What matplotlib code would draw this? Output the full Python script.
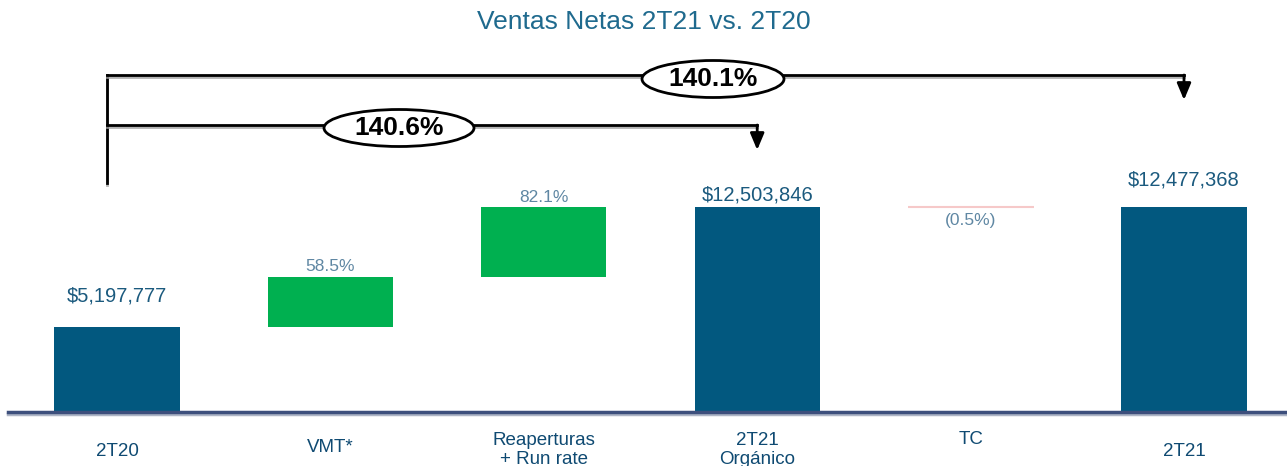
"""Waterfall de ventas netas 2T21 vs. 2T20
"""

#%% Imports
import matplotlib
matplotlib.use('Agg')
import matplotlib.pyplot as plt
import matplotlib.patheffects as pe
from matplotlib.patches import Ellipse

#%% Data
categories = ['2T20', 'VMT*', 'Reaperturas\n+ Run rate', '2T21\nOrgánico', 'TC', '2T21']
# value of each step (totals for 2T20 / 2T21, deltas for the others)
values = [5197777, 3040700, 4265369, 12503846, -26478, 12477368]
is_total = [True, False, False, True, False, True]
value_labels = ['$5,197,777', '58.5%', '82.1%', '$12,503,846', '(0.5%)', '$12,477,368']
growth_labels = ['140.6%', '140.1%']   # 2T20 -> 2T21 Orgánico, 2T20 -> 2T21
growth_targets = [3, 5]

#%% Style
plt.rcParams['font.family'] = ['Liberation Sans', 'DejaVu Sans']
blue = '#02587f'
green = '#00b050'
pink = '#f6c9c9'
title_col = '#1f6a8e'
val_col = '#1b5a7e'
pct_col = '#5f87a3'
cat_col = '#0f4a72'

W, H = 1287, 466
base_px = 412          # baseline position (pixels from top)
x0_px, step_px = 117, 213.4
ppu = (412 - 207) / values[3]   # pixels per unit of sales

fig = plt.figure(figsize=(W / 100, H / 100), dpi=100)
ax = fig.add_axes([0, 0, 1, 1])
ax.set_xlim(-x0_px / step_px, (W - x0_px) / step_px)
ax.set_ylim(-(H - base_px) / ppu, base_px / ppu)
ax.axis('off')

def ypx(px):
    # pixel row (from top) -> data y
    return (base_px - px) / ppu

def xpx(px):
    return (px - x0_px) / step_px

#%% Bars
running = 0
tops = []
for i, (v, tot) in enumerate(zip(values, is_total)):
    if tot:
        ax.bar(i, v, width=0.586, color=blue, zorder=2)
        running = v
        tops.append(v)
    elif v >= 0:
        ax.bar(i, v, bottom=running, width=0.586, color=green, zorder=2)
        running += v
        tops.append(running)
    else:
        ax.bar(i, v, bottom=running, width=0.59, color=pink, edgecolor=pink, lw=1.5, zorder=2)
        tops.append(running)
        running += v

# baseline
ax.plot([xpx(8), xpx(W)], [0, 0], color='#3d4f7c', lw=2.5, zorder=3,
        path_effects=[pe.SimpleLineShadow(offset=(0, -1.5), shadow_color='#9aa3b8', alpha=0.8), pe.Normal()])

#%% Value labels
label_off = [31, 10, 10, 12, -13, 27]
for i, (lab, off) in enumerate(zip(value_labels, label_off)):
    total = is_total[i]
    ax.annotate(lab, (i, tops[i]), xytext=(0, off), textcoords='offset pixels',
                ha='center', va='center',
                fontsize=14.5 if total else 12.5, color=val_col if total else pct_col)

# category labels
cat_y = [451, 447, 450, 450, 440, 452]
for i, (c, y) in enumerate(zip(categories, cat_y)):
    ax.text(i, ypx(y), c, ha='center', va='center', fontsize=13.5, color=cat_col,
            linespacing=1.15)

#%% Growth brackets
shadow = [pe.SimpleLineShadow(offset=(0, -1.5), shadow_color='#a0a0a0', alpha=0.8), pe.Normal()]
bracket_px = [125, 75]
tip_px = [150, 100]
ell_x = [399, 713]
ell_w = [150, 142]
ell_y = [128, 79]
x_left = xpx(107)
ax.plot([x_left, x_left], [ypx(183), ypx(75)], color='black', lw=2, path_effects=shadow)
for lab, tgt, by, ty, ex, ew, ey in zip(growth_labels, growth_targets, bracket_px, tip_px,
                                         ell_x, ell_w, ell_y):
    ax.plot([x_left, tgt], [ypx(by), ypx(by)], color='black', lw=2, path_effects=shadow)
    ax.annotate('', xy=(tgt, ypx(ty)), xytext=(tgt, ypx(by)),
                arrowprops=dict(arrowstyle='-|>,head_length=1.0,head_width=0.42',
                                color='black', lw=2, shrinkA=0, shrinkB=0))
    ax.add_patch(Ellipse((xpx(ex), ypx(ey)), ew / step_px, 37 / ppu,
                         facecolor='white', edgecolor='black', lw=2, zorder=4))
    ax.text(xpx(ex), ypx(ey), lab, ha='center', va='center', fontsize=19,
            fontweight='bold', color='black', zorder=5)

#%% Title
fig.text(0.5, 1 - 22 / H, 'Ventas Netas 2T21 vs. 2T20', ha='center', va='center',
         fontsize=19, color=title_col)

plt.savefig('out.png', dpi=100)
